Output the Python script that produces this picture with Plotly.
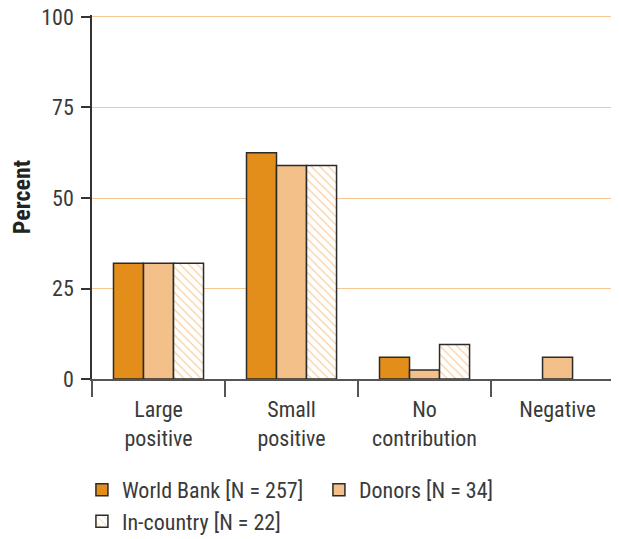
import plotly.graph_objects as go

categories = ["Large<br>positive", "Small<br>positive", "No<br>contribution", "Negative"]
world_bank = [32, 62.5, 6, 0]
donors = [32, 59, 2.5, 6]
in_country = [32, 59, 9.5, 0]
series_names = ["World Bank [N = 257]", "Donors [N = 34]", "In-country [N = 22]"]
y_ticks = [0, 25, 50, 75, 100]

FONT = "Roboto Condensed, Roboto, sans-serif"
OUT = "#2b2b2b"
TXT = "#3a3a3a"


def outline(vals):
    return dict(color=OUT, width=[1.5 if v > 0 else 0 for v in vals])


fig = go.Figure()
fig.add_trace(go.Bar(x=categories, y=world_bank, name=series_names[0],
                     marker=dict(color="#E38E1A", line=outline(world_bank))))
fig.add_trace(go.Bar(x=categories, y=donors, name=series_names[1],
                     marker=dict(color="#F2C088", line=outline(donors))))
fig.add_trace(go.Bar(x=categories, y=in_country, name=series_names[2],
                     marker=dict(color="white", line=outline(in_country),
                                 pattern=dict(shape="\\", fgcolor="#EFA040", bgcolor="white",
                                              size=6, solidity=0.2))))

fig.update_layout(
    width=611, height=531,
    margin=dict(l=84, r=0, t=7, b=160, autoexpand=False),
    plot_bgcolor="white", paper_bgcolor="white",
    barmode="group", bargap=0.323, bargroupgap=0,
    font=dict(family=FONT, size=22, color=TXT),
    showlegend=True,
    legend=dict(orientation="h", xref="container", yref="container",
                x=0.121, xanchor="left", y=0.132, yanchor="top",
                entrywidth=192, font=dict(size=22, color=TXT),
                traceorder="normal", tracegroupgap=0, itemwidth=30),
    xaxis=dict(range=[-0.5, 3.462], tickson="boundaries", ticks="outside", ticklen=16,
               tickcolor="#555555", tickwidth=1.5, showline=True, linecolor="#555555",
               linewidth=1.5, showgrid=False, automargin=False, ticklabelstandoff=10,
               tickfont=dict(size=22, color=TXT)),
    yaxis=dict(range=[0, 100.55], tickvals=y_ticks, ticks="outside", ticklen=9,
               tickcolor="#333333", tickwidth=1.5, showline=True, linecolor="#333333",
               linewidth=1.5, showgrid=True, gridcolor="#F7C793", gridwidth=1.2,
               zeroline=False, automargin=False, ticklabelstandoff=3,
               ticklabeloverflow="allow",
               tickfont=dict(size=22, color=TXT),
               title=dict(text="<b>Percent</b>", font=dict(size=24, color="#222222"), standoff=17)),
)

fig.write_html("out.html")
